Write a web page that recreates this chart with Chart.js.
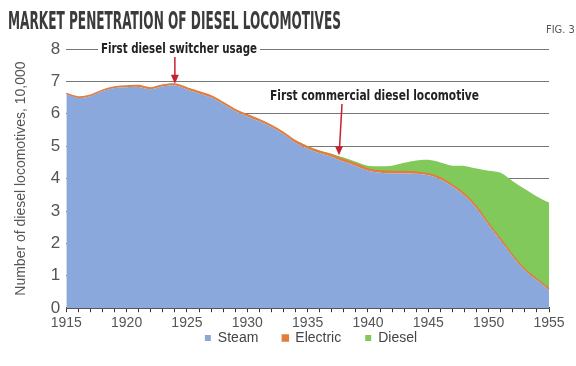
<!DOCTYPE html>
<html>
<head>
<meta charset="utf-8">
<script src="https://cdn.jsdelivr.net/npm/chart.js@4"></script>
<style>
  html, body { margin: 0; padding: 0; background: #fff; }
  #wrap { width: 576px; height: 366px; position: relative; }
</style>
</head>
<body>
<div id="wrap"><canvas id="chart" width="576" height="366"></canvas></div>
<script>
// Years on the x axis
const years = [1915, 1916, 1917, 1918, 1919, 1920, 1921, 1922, 1923, 1924,
    1925, 1926, 1927, 1928, 1929, 1930, 1931, 1932, 1933, 1934,
    1935, 1936, 1937, 1938, 1939, 1940, 1941, 1942, 1943, 1944,
    1945, 1946, 1947, 1948, 1949, 1950, 1951, 1952, 1953, 1954, 1955];

// Locomotives in service, units of 10,000 (stacked)
const steam = [6.60, 6.49, 6.54, 6.70, 6.80, 6.82, 6.83, 6.76, 6.85, 6.88,
    6.75, 6.63, 6.50, 6.30, 6.08, 5.92, 5.77, 5.59, 5.37, 5.10,
    4.92, 4.78, 4.67, 4.52, 4.39, 4.24, 4.18, 4.16, 4.16, 4.15,
    4.10, 3.97, 3.75, 3.47, 3.08, 2.56, 2.08, 1.59, 1.16, 0.86, 0.56];
const electric = [0.03, 0.03, 0.03, 0.03, 0.03, 0.04, 0.04, 0.04, 0.04, 0.04,
    0.05, 0.05, 0.05, 0.05, 0.05, 0.05, 0.05, 0.05, 0.05, 0.06,
    0.06, 0.06, 0.06, 0.06, 0.06, 0.06, 0.06, 0.06, 0.06, 0.05,
    0.05, 0.05, 0.05, 0.05, 0.05, 0.05, 0.05, 0.04, 0.04, 0.04, 0.04];
const diesel = [0, 0, 0, 0, 0, 0, 0, 0, 0, 0,
    0.01, 0.01, 0.01, 0.01, 0.01, 0.01, 0.01, 0.01, 0.02, 0.02,
    0.03, 0.03, 0.04, 0.07, 0.07, 0.10, 0.14, 0.18, 0.27, 0.36,
    0.43, 0.48, 0.60, 0.87, 1.18, 1.63, 2.05, 2.29, 2.48, 2.55, 2.66];

// y axis ticks
const yTicks = [0, 1, 2, 3, 4, 5, 6, 7, 8];

// Annotations: year index the arrow points at and the value of its tip
const noteTexts = ["First diesel switcher usage", "First commercial diesel locomotive"];
const noteIndex = [9, 22.6];
const noteTip = [6.93, 4.72];

const colSteam = "#8ba8dc", colElectric = "#e37d3c", colDiesel = "#80c95a";

// legend sits just under the tick labels, tighter than Chart.js places it
const legendPlace = {
    id: "legendPlace",
    beforeInit(chart) {
        const fit = chart.legend.fit;
        chart.legend.fit = function () {
            fit.call(this);
            this.height = 24;
        };
    },
    afterLayout(chart) {
        const lg = chart.legend;
        lg.top = 307;
        lg.bottom = chart.height;
        lg.height = lg.bottom - lg.top;
        lg.left += 31;
        lg.right += 31;
    }
};

// Title, figure number and arrows with labels
const decorPlugin = {
    id: "decor",
    afterDraw(chart) {
        const ctx = chart.ctx, x = chart.scales.x, y = chart.scales.y;
        ctx.save();
        // title
        ctx.fillStyle = "#3b3b3b";
        ctx.font = "bold 24px 'Liberation Sans Narrow', 'DejaVu Sans Condensed', sans-serif";
        ctx.textBaseline = "alphabetic";
        ctx.fillText("MARKET PENETRATION OF DIESEL LOCOMOTIVES", 8, 29, 333);
        ctx.font = "11px 'Liberation Sans Narrow', 'DejaVu Sans Condensed', sans-serif";
        ctx.fillStyle = "#555";
        ctx.fillText("FIG. 3", 546, 33);

        // note 1 sits on the top gridline
        ctx.font = "bold 14px 'Liberation Sans Narrow', 'DejaVu Sans Condensed', sans-serif";
        ctx.textBaseline = "middle";
        const y8 = y.getPixelForValue(8);
        const w1 = ctx.measureText(noteTexts[0]).width;
        ctx.fillStyle = "#fff";
        ctx.fillRect(98, y8 - 8, Math.min(w1, 156) + 6, 16);
        ctx.fillStyle = "#222";
        ctx.fillText(noteTexts[0], 101, y8, 156);
        ctx.fillText(noteTexts[1], 270, 96, 209);

        // arrows
        ctx.strokeStyle = "#c52233";
        ctx.fillStyle = "#c52233";
        ctx.lineWidth = 1.5;
        const tops = [y8 + 8, 104];
        const lean = [0, 3];
        for (let i = 0; i < noteIndex.length; i++) {
            const tx = x.getPixelForValue(noteIndex[i]);
            const ty = y.getPixelForValue(noteTip[i]);
            ctx.beginPath();
            ctx.moveTo(tx + lean[i], tops[i]);
            ctx.lineTo(tx + lean[i] * 0.15, ty - 6);
            ctx.stroke();
            ctx.beginPath();
            ctx.moveTo(tx, ty);
            ctx.lineTo(tx - 4, ty - 9);
            ctx.lineTo(tx + 4, ty - 9);
            ctx.closePath();
            ctx.fill();
        }
        ctx.restore();
    }
};

new Chart(document.getElementById("chart"), {
    type: "line",
    plugins: [legendPlace, decorPlugin],
    data: {
        labels: years,
        datasets: [
            { label: "Steam", data: steam, backgroundColor: colSteam, borderColor: colSteam,
              borderWidth: 0, fill: "origin" },
            { label: "Electric", data: electric, backgroundColor: colElectric, borderColor: colElectric,
              borderWidth: 1.5, fill: "-1" },
            { label: "Diesel", data: diesel, backgroundColor: colDiesel, borderColor: colDiesel,
              borderWidth: 0, fill: "-1" },
        ],
    },
    options: {
        responsive: false,
        animation: false,
        elements: { point: { radius: 0 }, line: { tension: 0.3 } },
        layout: { padding: { top: 49, right: 27, left: 11, bottom: 7 } },
        plugins: {
            tooltip: { enabled: false },
            legend: {
                position: "bottom",
                labels: {
                    boxWidth: 6, boxHeight: 6, padding: 24, color: "#444",
                    font: { family: "'Liberation Sans', Arial, sans-serif", size: 14 },
                },
            },
        },
        scales: {
            x: {
                offset: false,
                grid: { drawOnChartArea: false, drawTicks: true, tickLength: 4, color: "#333", lineWidth: 1 },
                border: { display: true, color: "#333", width: 1.5 },
                ticks: {
                    autoSkip: false, maxRotation: 0, padding: 3, color: "#555",
                    font: { family: "'Liberation Sans', Arial, sans-serif", size: 14 },
                    callback: (v, i) => (years[i] % 5 === 0 ? years[i] : ""),
                },
            },
            y: {
                stacked: true,
                min: 0,
                max: 8,
                afterBuildTicks: (axis) => { axis.ticks = yTicks.map((v) => ({ value: v })); },
                grid: { color: "#777", lineWidth: 1, drawTicks: false },
                border: { display: false },
                ticks: {
                    padding: 6, color: "#555",
                    font: { family: "'Liberation Sans', Arial, sans-serif", size: 17 },
                },
                title: {
                    display: true, text: "Number of diesel locomotives, 10,000", color: "#555",
                    font: { family: "'Liberation Sans', Arial, sans-serif", size: 14 },
                    padding: { top: 2, bottom: 15 },
                },
            },
        },
    },
});
</script>
</body>
</html>
